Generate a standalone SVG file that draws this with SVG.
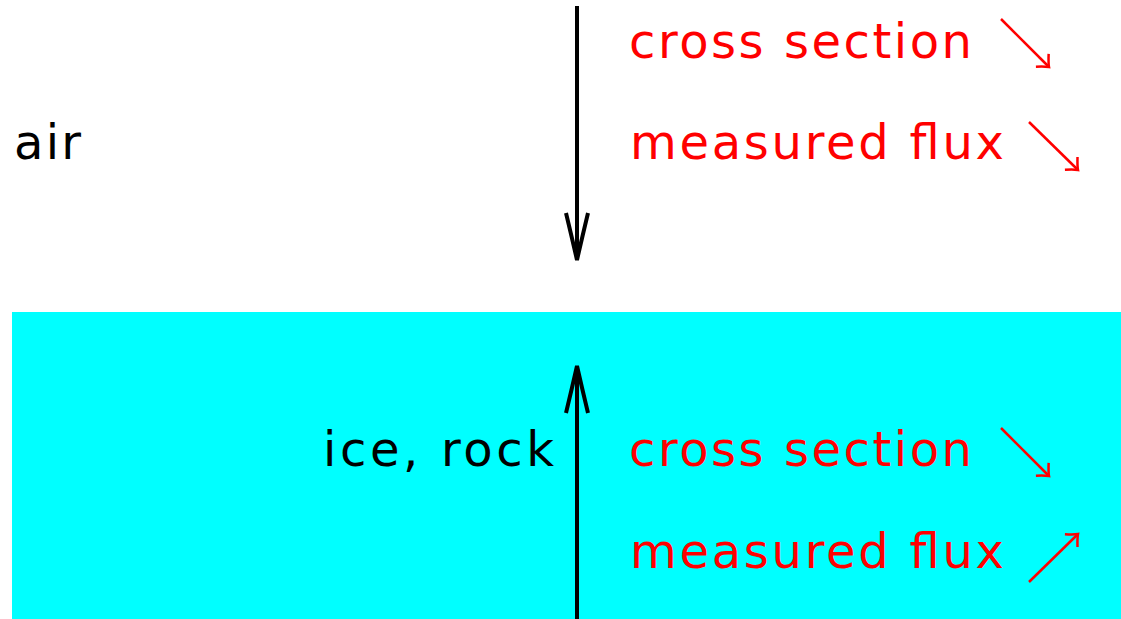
<svg xmlns="http://www.w3.org/2000/svg" width="1121" height="619" viewBox="0 0 1121 619">
<style>
text{font-family:"DejaVu Sans","Liberation Sans",sans-serif;font-size:48px}
.blk{fill:#000}
.red{fill:#ff0000}
.ax{stroke:#000;stroke-width:4;fill:none;stroke-linejoin:miter}
.sm{stroke:#ff0000;stroke-width:2.5;fill:none}
</style>
<defs>
<marker id="rh" markerUnits="userSpaceOnUse" viewBox="-12 -12 14 24" markerWidth="14" markerHeight="24" refX="0" refY="0" orient="auto" overflow="visible">
<path d="M-9.5,-9 Q-3,-2 0,0 Q-3,2 -9.5,9" stroke="#ff0000" stroke-width="2.5" fill="none"/>
</marker>
</defs>
<rect id="ice" x="12" y="312" width="1109" height="307" fill="#00ffff"/>
<g id="labels">
<text id="air" class="blk" x="14" y="159" textLength="67">air</text>
<text id="icerock" class="blk" x="323" y="466" textLength="231">ice, rock</text>
<text id="cs1" class="red" x="629" y="58" textLength="343">cross section</text>
<text id="mf1" class="red" x="630" y="159" textLength="374">measured flux</text>
<text id="cs2" class="red" x="629" y="466" textLength="343">cross section</text>
<text id="mf2" class="red" x="630" y="568" textLength="374">measured flux</text>
</g>
<g id="connectors">
<line class="ax" x1="577" y1="6" x2="577" y2="258"/>
<path class="ax" d="M566,213 Q572,238 577,260 Q582,238 588,213"/>
<line class="ax" x1="577" y1="619" x2="577" y2="368"/>
<path class="ax" d="M566,413 Q572,388 577,366 Q582,388 588,413"/>
<line class="sm" x1="1001" y1="19" x2="1049" y2="67" marker-end="url(#rh)"/>
<line class="sm" x1="1029" y1="122" x2="1078" y2="170" marker-end="url(#rh)"/>
<line class="sm" x1="1001" y1="428" x2="1049" y2="476" marker-end="url(#rh)"/>
<line class="sm" x1="1029" y1="582" x2="1078" y2="534" marker-end="url(#rh)"/>
</g>
</svg>
